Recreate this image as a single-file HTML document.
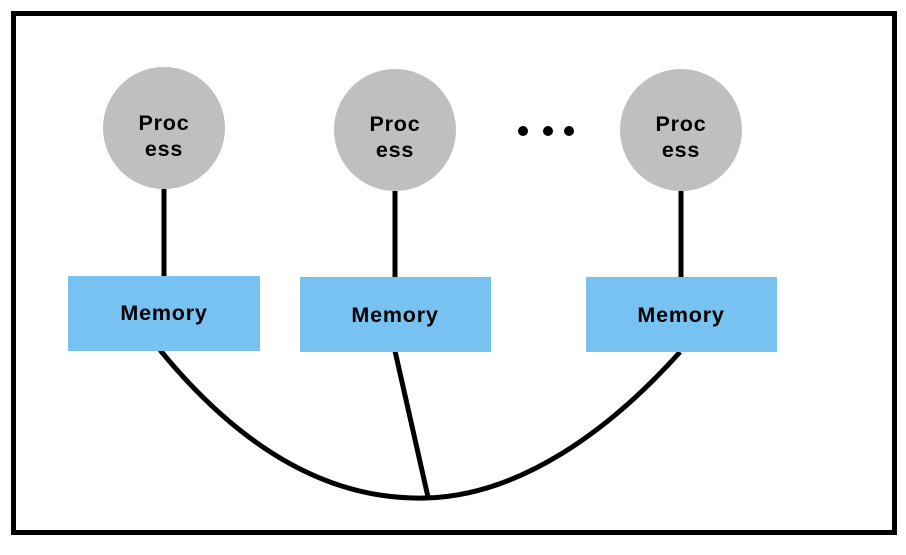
<!DOCTYPE html>
<html><head><style>body{margin:0;background:#fff}</style></head><body>
<svg width="906" height="550" xmlns="http://www.w3.org/2000/svg">
<rect x="13.5" y="13.5" width="881" height="519" fill="#fff" stroke="#000" stroke-width="5"/>
<g stroke="#000" stroke-width="5" fill="none">
<line x1="164" y1="189" x2="164" y2="277"/>
<line x1="395" y1="191" x2="395" y2="278"/>
<line x1="681" y1="191" x2="681" y2="278"/>
<path d="M160 350 C250 460 340 500 425 498 C520 496 610 430 680 352"/>
<line x1="395" y1="351" x2="428" y2="497"/>
</g>
<g fill="#bfbfbf">
<circle cx="164" cy="128" r="61"/>
<circle cx="395" cy="130" r="61"/>
<circle cx="681" cy="130" r="61"/>
</g>
<g fill="#000">
<circle cx="523" cy="131" r="5"/><circle cx="548" cy="131" r="5"/><circle cx="569" cy="131" r="5"/>
</g>
<g fill="#77c2f0">
<rect x="68" y="276" width="192" height="75"/>
<rect x="300" y="277" width="191" height="75"/>
<rect x="586" y="277" width="191" height="75"/>
</g>
<g font-family="Liberation Sans, sans-serif" font-size="21.5" font-weight="bold" fill="#000" text-anchor="middle" letter-spacing="0.8">
<text x="164" y="130">Proc</text><text x="164" y="156">ess</text>
<text x="395" y="131">Proc</text><text x="395" y="157">ess</text>
<text x="681" y="131">Proc</text><text x="681" y="157">ess</text>
<text x="164" y="320">Memory</text>
<text x="395" y="322">Memory</text>
<text x="681" y="322">Memory</text>
</g>
</svg>
</body></html>
